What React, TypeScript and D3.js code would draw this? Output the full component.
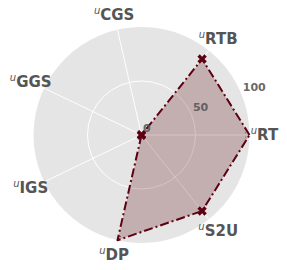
import React from "react";
import * as d3 from "d3";

const categories = ["RT", "RTB", "CGS", "GGS", "IGS", "DP", "S2U"];
const values = [100, 90, 0, 0, 0, 100, 90];
const rTicks = [0, 50, 100];

const W = 287, H = 270;
const cx = 141.5, cy = 135, R = 108;

export default function App() {
  const r = d3.scaleLinear().domain([0, 100]).range([0, R]);
  const n = categories.length;
  const ang = (i: number) => (i * 2 * Math.PI) / n; // counterclockwise from east
  const pt = (i: number, v: number): [number, number] => [
    cx + r(v) * Math.cos(ang(i)),
    cy - r(v) * Math.sin(ang(i)),
  ];
  const pts = values.map((v, i) => pt(i, v));
  const line = d3.line().curve(d3.curveLinearClosed);
  const pathD = line(pts) || "";
  const marker = d3.symbol().type(d3.symbolCross).size(55)() || "";
  const lblAng = (22.5 * Math.PI) / 180;

  return (
    <svg width={W} height={H} style={{ position: "absolute", left: 0, top: 0, background: "#fff" }}
      fontFamily="DejaVu Sans">
      <defs>
        <clipPath id="disc"><circle cx={cx} cy={cy} r={R - 4} /></clipPath>
      </defs>
      <circle cx={cx} cy={cy} r={R} fill="#E5E5E5" />
      {rTicks.filter(t => t > 0 && t < 100).map(t => (
        <circle key={t} cx={cx} cy={cy} r={r(t)} fill="none" stroke="#fff" strokeWidth={1} />
      ))}
      {categories.map((c, i) => {
        const [x, y] = pt(i, 100);
        return <line key={c} x1={cx} y1={cy} x2={x} y2={y} stroke="#fff" strokeWidth={1} />;
      })}
      <path d={pathD} fill="#5E0A14" fillOpacity={0.25} stroke="none" />
      <path d={pathD} fill="none" stroke="#5C0012" strokeWidth={2}
        strokeDasharray="9,3,2,3" strokeLinejoin="round" />
      <g clipPath="url(#disc)">
        {pts.map(([x, y], i) => (
          <path key={i} d={marker} transform={`translate(${x},${y}) rotate(45)`} fill="#5C0012" />
        ))}
      </g>
      {rTicks.map(t => {
        const x = cx + r(t) * Math.cos(lblAng) + 1.5;
        const y = cy - r(t) * Math.sin(lblAng) - 3;
        return (
          <text key={t} x={x} y={y} fontSize={11} fontWeight="bold" fill="#555" fillOpacity={0.9}>
            {t}
          </text>
        );
      })}
      {categories.map((c, i) => {
        const rr = R + 15;
        const x = cx + rr * Math.cos(ang(i));
        const y = cy - rr * Math.sin(ang(i));
        return (
          <text key={c} x={x} y={y} textAnchor="middle" dominantBaseline="central"
            fontSize={15} fontWeight="bold" fill="#555">
            <tspan fontSize={10} fontStyle="italic" fontWeight="normal" dy={-5}>u</tspan>
            <tspan dy={5}>{c}</tspan>
          </text>
        );
      })}
    </svg>
  );
}
